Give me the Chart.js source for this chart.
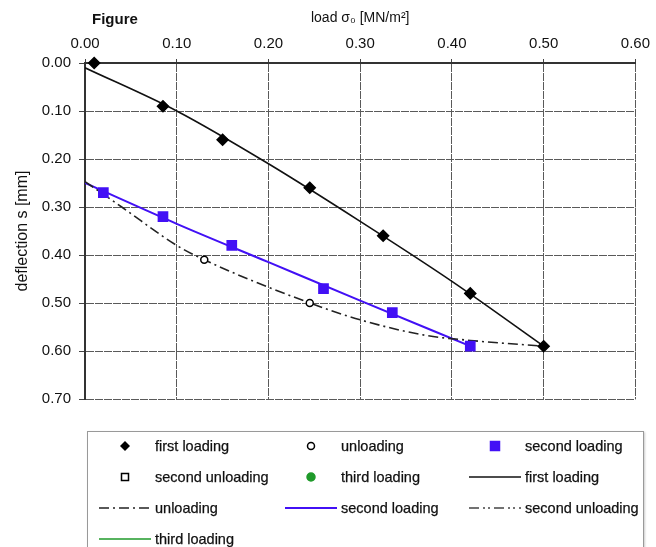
<!DOCTYPE html>
<html>
<head>
<meta charset="utf-8">
<script src="https://cdn.jsdelivr.net/npm/chart.js@4.4.1/dist/chart.umd.min.js"></script>
<style>
body { margin: 0; background: #fff; font-family: "Liberation Sans", Arial, sans-serif; }
#wrap { position: relative; width: 656px; height: 547px; overflow: hidden; }
#fig { position: absolute; left: 92px; top: 10px; font-weight: bold; font-size: 15px; color: #111; }
#legend { position: absolute; left: 87px; top: 431px; width: 555px; height: 150px;
  border: 1px solid #999; box-shadow: 1px 1px 2px #ccc; }
.item { position: absolute; height: 16px; }
.item svg { position: absolute; left: 0; top: 0; }
.item span { position: absolute; top: -1px; font-size: 14.5px; line-height: 18px; color: #111;
  white-space: nowrap; -webkit-text-stroke: 0.25px #111; }
</style>
</head>
<body>
<div id="wrap">
  <canvas id="chart" width="656" height="547"></canvas>
  <div id="fig">Figure</div>
  <div id="legend"></div>
</div>
<script>
// measured points
var firstLoadX = [0.01, 0.085, 0.15, 0.245, 0.325, 0.42, 0.50];
var firstLoadY = [0.00, 0.09, 0.16, 0.26, 0.36, 0.48, 0.59];
var unloadX = [0.13, 0.245];
var unloadY = [0.41, 0.50];
var secondLoadX = [0.02, 0.085, 0.16, 0.26, 0.335, 0.42];
var secondLoadY = [0.27, 0.32, 0.38, 0.47, 0.52, 0.59];
var secondUnloadX = [];
var secondUnloadY = [];
var thirdLoadX = [];
var thirdLoadY = [];

// fitted curves
var firstFitX = [0, 0.1, 0.2, 0.3, 0.4, 0.5];
var firstFitY = [0.01, 0.10, 0.21, 0.33, 0.455, 0.59];
var unloadFitX = [0, 0.04, 0.10, 0.13, 0.245, 0.30, 0.37, 0.42, 0.50];
var unloadFitY = [0.247, 0.30, 0.38, 0.41, 0.50, 0.535, 0.567, 0.578, 0.59];
var secondFitX = [0, 0.1, 0.2, 0.3, 0.42];
var secondFitY = [0.25, 0.335, 0.415, 0.495, 0.59];

var xTitle = 'load \u03c3\u2080 [MN/m\u00b2]';
var yTitle = 'deflection s [mm]';

function pts(xs, ys) {
    return xs.map(function (x, i) { return {x: x, y: ys[i]}; });
}

var blue = '#4210f5';
var green = '#1f9a2a';
var dashDot = [10, 4, 2, 4];
var dashDotDot = [10, 4, 2, 3, 2, 4];

function markers(label, xs, ys, style, radius, fill, stroke) {
    return {
        label: label, data: pts(xs, ys), showLine: false, clip: 10,
        pointStyle: style, pointRadius: radius, pointHoverRadius: radius,
        pointBackgroundColor: fill, pointBorderColor: stroke, pointBorderWidth: 1.5
    };
}
function curve(label, xs, ys, color, width, dash) {
    return {
        label: label, data: pts(xs, ys), showLine: true, pointRadius: 0,
        borderColor: color, borderWidth: width, borderDash: dash,
        cubicInterpolationMode: 'monotone'
    };
}

var datasets = [
    markers('first loading', firstLoadX, firstLoadY, 'rectRot', 5.5, '#000', '#000'),
    markers('unloading', unloadX, unloadY, 'circle', 3.5, '#fff', '#000'),
    markers('second loading', secondLoadX, secondLoadY, 'rect', 6.5, blue, blue),
    markers('second unloading', secondUnloadX, secondUnloadY, 'rect', 5, '#fff', '#000'),
    markers('third loading', thirdLoadX, thirdLoadY, 'circle', 4, green, green),
    curve('first loading', firstFitX, firstFitY, '#111', 1.6, []),
    curve('unloading', unloadFitX, unloadFitY, '#222', 1.6, dashDot),
    curve('second loading', secondFitX, secondFitY, blue, 2, []),
    curve('second unloading', [], [], '#444', 1.6, dashDotDot),
    curve('third loading', [], [], green, 1.6, [])
];

var fam = '"Liberation Sans", Arial, sans-serif';
var tickFont = {family: fam, size: 15};

var chart = new Chart(document.getElementById('chart'), {
    type: 'scatter',
    data: {datasets: datasets},
    options: {
        responsive: false,
        animation: false,
        layout: {padding: {left: 0, top: 0, right: 17, bottom: 148}},
        plugins: {legend: {display: false}, tooltip: {enabled: false}},
        scales: {
            x: {
                position: 'top', min: 0, max: 0.6,
                ticks: {stepSize: 0.1, font: tickFont, color: '#111', padding: 6,
                    callback: function (v) { return v.toFixed(2); }},
                grid: {color: '#5a5a5a', tickLength: 4, tickColor: '#444'},
                border: {display: true, color: '#333', width: 2, dash: [8, 1]},
                title: {display: true, text: xTitle, font: {family: fam, size: 14}, color: '#111', padding: {top: 10, bottom: 0}},
                afterFit: function (s) { s.height = 63; }
            },
            y: {
                reverse: true, min: 0, max: 0.7,
                ticks: {stepSize: 0.1, font: tickFont, color: '#111', padding: 8,
                    callback: function (v) { return v.toFixed(2); }},
                grid: {color: '#5a5a5a', tickLength: 6, tickColor: '#444'},
                border: {display: true, color: '#333', width: 2, dash: [8, 1]},
                title: {display: true, text: yTitle, font: {family: fam, size: 16}, color: '#111', padding: {top: 13, bottom: 0}},
                afterFit: function (s) { s.width = 85; }
            }
        }
    }
});

// legend laid out in 3 columns like the original
var colX = [11, 197, 381];
var rowY = [6, 37, 68, 99];
var legend = document.getElementById('legend');
chart.data.datasets.forEach(function (ds, i) {
    var col = i % 3, row = Math.floor(i / 3);
    var sym = '';
    if (ds.showLine) {
        var dash = ds.borderDash && ds.borderDash.length ? ' stroke-dasharray="' + ds.borderDash.join(' ') + '"' : '';
        sym = '<line x1="0" y1="8" x2="52" y2="8" stroke="' + ds.borderColor + '" stroke-width="' + ds.borderWidth + '"' + dash + '/>';
    } else if (ds.pointStyle === 'rectRot') {
        sym = '<polygon points="26,3 31,8 26,13 21,8" fill="' + ds.pointBackgroundColor + '"/>';
    } else if (ds.pointStyle === 'rect') {
        var h = ds.pointBackgroundColor === '#fff' ? 3.5 : 4.5;
        sym = '<rect x="' + (26 - h) + '" y="' + (8 - h) + '" width="' + 2 * h + '" height="' + 2 * h + '" fill="' + ds.pointBackgroundColor + '" stroke="' + ds.pointBorderColor + '" stroke-width="1.5"/>';
    } else {
        sym = '<circle cx="26" cy="8" r="' + ds.pointRadius + '" fill="' + ds.pointBackgroundColor + '" stroke="' + ds.pointBorderColor + '" stroke-width="1.5"/>';
    }
    var el = document.createElement('div');
    el.className = 'item';
    el.style.left = colX[col] + 'px';
    el.style.top = rowY[row] + 'px';
    el.innerHTML = '<svg width="52" height="16">' + sym + '</svg><span style="left:56px">' + ds.label + '</span>';
    legend.appendChild(el);
});
</script>
</body>
</html>
